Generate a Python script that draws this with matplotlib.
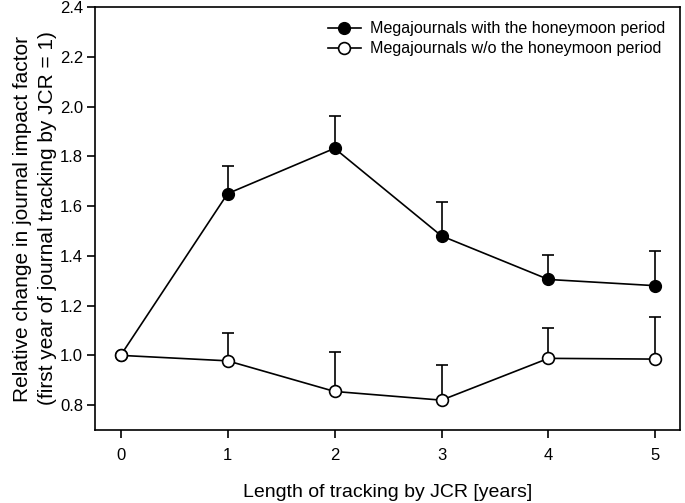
import matplotlib.pyplot as plt

plt.rcParams['font.family'] = ['Liberation Sans', 'DejaVu Sans']

years = [0, 1, 2, 3, 4, 5]
with_hm = [1.0, 1.65, 1.832, 1.48, 1.305, 1.28]
with_hm_err = [0.0, 0.11, 0.128, 0.137, 0.10, 0.14]
without_hm = [1.0, 0.978, 0.855, 0.82, 0.988, 0.985]
without_hm_err = [0.0, 0.112, 0.157, 0.14, 0.122, 0.17]
yticks = [0.8, 1.0, 1.2, 1.4, 1.6, 1.8, 2.0, 2.2, 2.4]

fig = plt.figure(figsize=(6.85, 5.03), dpi=100)
ax = fig.add_axes([0.1387, 0.1451, 0.854, 0.841])

# error bars only upward
ax.errorbar(years, with_hm, yerr=[[0] * 6, with_hm_err], fmt='none',
            ecolor='black', elinewidth=1.2, capsize=4.3, capthick=1.2, zorder=2)
ax.errorbar(years, without_hm, yerr=[[0] * 6, without_hm_err], fmt='none',
            ecolor='black', elinewidth=1.2, capsize=4.3, capthick=1.2, zorder=2)

ax.plot(years, with_hm, '-o', color='black', lw=1.2, ms=8.5,
        mfc='black', mec='black', label='Megajournals with the honeymoon period', zorder=3)
ax.plot(years, without_hm, '-o', color='black', lw=1.2, ms=8.5,
        mfc='white', mec='black', mew=1.2, label='Megajournals w/o the honeymoon period', zorder=4)

ax.set_xlim(-0.24, 5.23)
ax.set_ylim(0.7, 2.4)
ax.set_xticks(years)
ax.set_yticks(yticks)
ax.set_yticklabels(['%.1f' % v for v in yticks])
ax.tick_params(direction='out', length=5.5, width=1.2, labelsize=12, pad=3)
ax.tick_params(axis='x', pad=7.5)
ax.tick_params(top=False, right=False)
for s in ax.spines.values():
    s.set_linewidth(1.2)

ax.set_xlabel('Length of tracking by JCR [years]', fontsize=14, labelpad=15)
ax.set_ylabel('Relative change in journal impact factor\n(first year of journal tracking by JCR = 1)',
              fontsize=15, labelpad=2, linespacing=1.4)

ax.legend(loc='upper right', frameon=False, fontsize=11.6, handlelength=2,
          handletextpad=0.6, labelspacing=0.3)

fig.savefig('out.png', dpi=100)
